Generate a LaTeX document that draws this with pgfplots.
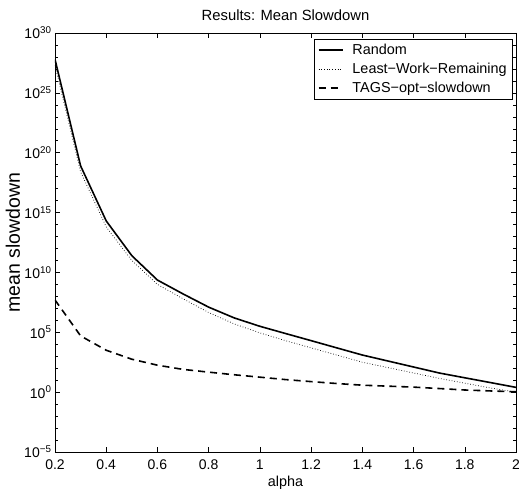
\documentclass[border=0pt]{standalone}
\usepackage{fontspec}
\setmainfont{Liberation Sans}
\usepackage{pgfplots}
\pgfplotsset{compat=1.18}
\begin{document}
\begin{tikzpicture}[x=1pt,y=1pt]
\begin{axis}[
  at={(0pt,0pt)}, anchor=south west,
  scale only axis, width=461pt, height=419pt,
  ymode=log, xmin=0.2, xmax=2, ymin=1e-5, ymax=1e30,
  xtick={0.2,0.4,...,2.0},
  xticklabels={0.2,0.4,0.6,0.8,1,1.2,1.4,1.6,1.8,2},
  ytick={1e-5,1e0,1e5,1e10,1e15,1e20,1e25,1e30},
  yticklabels={10\textsuperscript{−5},10\textsuperscript{0},10\textsuperscript{5},10\textsuperscript{10},10\textsuperscript{15},10\textsuperscript{20},10\textsuperscript{25},10\textsuperscript{30}},
  minor ytick={1e-4,1e-3,1e-2,1e-1,1e1,1e2,1e3,1e4,1e6,1e7,1e8,1e9,1e11,1e12,1e13,1e14,1e16,1e17,1e18,1e19,1e21,1e22,1e23,1e24,1e26,1e27,1e28,1e29},
  tick align=inside, major tick length=5pt, minor tick length=3pt,
  tick style={black, line width=0.5pt},
  axis line style={line width=0.8pt},
  tick label style={font=\fontsize{14}{16}\selectfont},
  xticklabel style={yshift=-4pt},
  title style={font=\fontsize{14.8}{17}\selectfont, yshift=3pt},
  title={Results: Mean Slowdown},
  xlabel={alpha}, ylabel={mean slowdown},
  xlabel style={font=\fontsize{14.4}{16}\selectfont, at={(axis description cs:0.5,-0.074)}, anchor=center},
  ylabel style={font=\fontsize{19.5}{22}\selectfont, at={(axis description cs:-0.0911,0.5)}, anchor=center},
  legend style={at={(0.9935,0.9857)}, anchor=north east, draw=black, line width=0.6pt,
    font=\fontsize{14.4}{16}\selectfont, row sep=3pt, inner xsep=4pt, inner ysep=3pt},
  legend cell align=left,
  legend image code/.code={\draw[#1] (0pt,0pt) -- (24pt,0pt); \path (31pt,0pt);},
]
\addplot[black, line width=1.6pt] coordinates {
(0.2,6.3e27) (0.3,7.9e18) (0.4,2.0e14) (0.5,2.5e11) (0.6,2.3e9) (0.7,1.6e8)
(0.8,1.26e7) (0.9,1.58e6) (1.0,3.16e5) (1.1,7.9e4) (1.2,2.0e4) (1.3,5.0e3) (1.4,1.26e3)
(1.5,398) (1.6,126) (1.7,39.8) (1.8,15.8) (1.9,6.3) (2.0,2.5)};
\addlegendentry{Random}
\addplot[black, line width=0.7pt, dotted] coordinates {
(0.2,2.0e27) (0.3,2.5e18) (0.4,6.3e13) (0.5,1.0e11) (0.6,1.0e9) (0.7,6.3e7)
(0.8,4.47e6) (0.9,5.0e5) (1.0,8.9e4) (1.1,2.0e4) (1.2,5.0e3) (1.3,1.26e3) (1.4,316)
(1.5,112) (1.6,39.8) (1.7,14.1) (1.8,5.62) (1.9,2.24) (2.0,1.0)};
\addlegendentry{Least−Work−Remaining}
\addplot[black, line width=1.6pt, dash pattern=on 7pt off 5pt] coordinates {
(0.2,5.0e7) (0.3,5.0e4) (0.4,3.16e3) (0.5,562) (0.6,178) (0.7,79.4)
(0.8,46.8) (0.9,28.2) (1.0,17.8) (1.1,11.2) (1.2,7.59) (1.3,5.25) (1.4,3.8)
(1.5,3.16) (1.6,2.63) (1.7,2.0) (1.8,1.51) (1.9,1.26) (2.0,1.07)};
\addlegendentry{TAGS−opt−slowdown}
\end{axis}
\pgfresetboundingbox
\path (-55pt,-42pt) rectangle (464pt,452pt);
\end{tikzpicture}
\end{document}
